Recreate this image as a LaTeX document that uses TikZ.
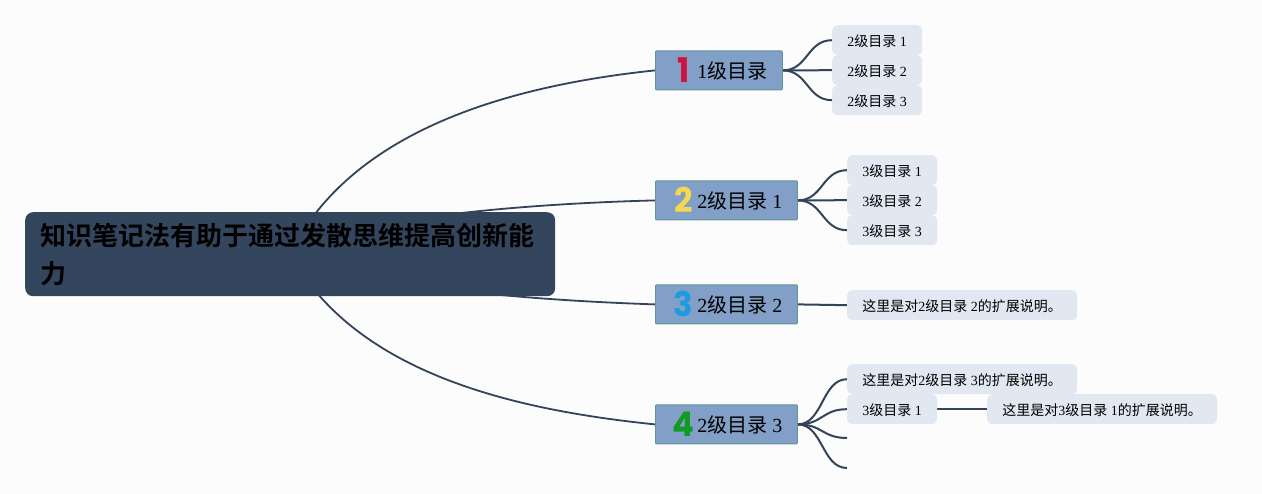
\documentclass[tikz,border=0pt]{standalone}
\usepackage{graphicx}
\usepackage{fontspec}
\setmainfont{Liberation Serif}
\newfontfamily\cjk{Noto Sans CJK SC}
\newfontfamily\cjkb{Noto Sans CJK SC Bold}
\newfontfamily\iconf{Poppins}
\usetikzlibrary{backgrounds}
\definecolor{pagebg}{HTML}{FCFCFD}
\definecolor{rootfill}{HTML}{34455E}
\definecolor{topicfill}{HTML}{82A0C7}
\definecolor{topicline}{HTML}{5F9598}
\definecolor{leaffill}{HTML}{E2E8F1}
\definecolor{linkc}{HTML}{34435A}
\definecolor{ired}{HTML}{D0123C}
\definecolor{iyellow}{HTML}{F5D94E}
\definecolor{iblue}{HTML}{1E9BE0}
\definecolor{igreen}{HTML}{129A24}
\newcommand{\lab}[2]{#1{\cjk 级目录} #2}
\newcommand{\ico}[2]{\hspace{3pt}\makebox[20pt][c]{\smash{\raisebox{-4pt}{\scalebox{0.95}[1]{\iconf\bfseries\fontsize{34}{34}\selectfont\color{#1}#2}}}}\hspace{4pt}}
\tikzset{
  x=1pt,y=-1pt,
  rootbox/.style={anchor=north west,fill=rootfill,rounded corners=8pt,minimum width=530pt,minimum height=84pt,text width=500pt,inner xsep=15pt,inner ysep=0pt,align=left,font=\cjkb\fontsize{26}{38}\selectfont},
  topicbox/.style={anchor=north west,fill=topicfill,draw=topicline,line width=0.8pt,rounded corners=1pt,minimum height=39pt,inner xsep=0pt,inner ysep=0pt,text height=16.6pt,text depth=0pt,font=\fontsize{20}{24}\selectfont},
  leafbox/.style={anchor=north west,fill=leaffill,rounded corners=5pt,minimum height=30pt,inner xsep=0pt,inner ysep=0pt,text height=12.5pt,text depth=0pt,font=\fontsize{14}{16}\selectfont},
  link/.style={draw=linkc,line width=2pt},
  mainlink/.style={draw=linkc,line width=1.8pt}
}
\begin{document}
\begin{tikzpicture}
\useasboundingbox (0,0) rectangle (1262,494);
\begin{pgfonlayer}{background}
\fill[pagebg] (0,0) rectangle (1262,494);
\end{pgfonlayer}
\coordinate (free1) at (847,438);
\coordinate (free2) at (847,468);
\coordinate (rootc) at (290,254);

% leaves
\node[leafbox,minimum width=90pt] (a1) at (832,25) {\lab{2}{1}};
\node[leafbox,minimum width=90pt] (a2) at (832,55) {\lab{2}{2}};
\node[leafbox,minimum width=90pt] (a3) at (832,85) {\lab{2}{3}};
\node[leafbox,minimum width=90pt] (b1) at (847,155) {\lab{3}{1}};
\node[leafbox,minimum width=90pt] (b2) at (847,185) {\lab{3}{2}};
\node[leafbox,minimum width=90pt] (b3) at (847,215) {\lab{3}{3}};
\node[leafbox,minimum width=230pt] (c1) at (847,290) {{\cjk 这里是对}2{\cjk 级目录} 2{\cjk 的扩展说明。}};
\node[leafbox,minimum width=230pt] (d1) at (847,364) {{\cjk 这里是对}2{\cjk 级目录} 3{\cjk 的扩展说明。}};
\node[leafbox,minimum width=90pt] (d2) at (847,394) {\lab{3}{1}};
\node[leafbox,minimum width=230pt] (e1) at (987,394) {{\cjk 这里是对}3{\cjk 级目录} 1{\cjk 的扩展说明。}};

% topics
\node[topicbox,minimum width=127pt] (t1) at (655,50.5) {\ico{ired}{1}1{\cjk 级目录}};
\node[topicbox,minimum width=142pt] (t2) at (655,180.5) {\ico{iyellow}{2}\lab{2}{1}};
\node[topicbox,minimum width=142pt] (t3) at (655,284.5) {\ico{iblue}{3}\lab{2}{2}};
\node[topicbox,minimum width=142pt] (t4) at (655,404.5) {\ico{igreen}{4}\lab{2}{3}};

% root
\node[rootbox] (root) at (25,212) {知识笔记法有助于通过发散思维提高创新能\\力};

\begin{pgfonlayer}{background}
\draw[mainlink] (rootc) .. controls (352,128) and (515,85) .. (t1.west);
\draw[mainlink] (rootc) .. controls (330,225) and (480,205) .. (t2.west);
\draw[mainlink] (rootc) .. controls (370,287) and (525,300) .. (t3.west);
\draw[mainlink] (rootc) .. controls (356,374) and (515,410) .. (t4.west);
\foreach \k in {a1,a2,a3}
  \draw[link] (t1.east) .. controls +(25,0) and +(-25,0) .. (\k.west);
\foreach \k in {b1,b2,b3}
  \draw[link] (t2.east) .. controls +(25,0) and +(-25,0) .. (\k.west);
\draw[link] (t3.east) -- (c1.west);
\foreach \k in {d1.west,d2.west,free1,free2}
  \draw[link] (t4.east) .. controls +(25,0) and +(-25,0) .. (\k);
\draw[link] (d2.east) -- (e1.west);
\end{pgfonlayer}
\end{tikzpicture}
\end{document}
